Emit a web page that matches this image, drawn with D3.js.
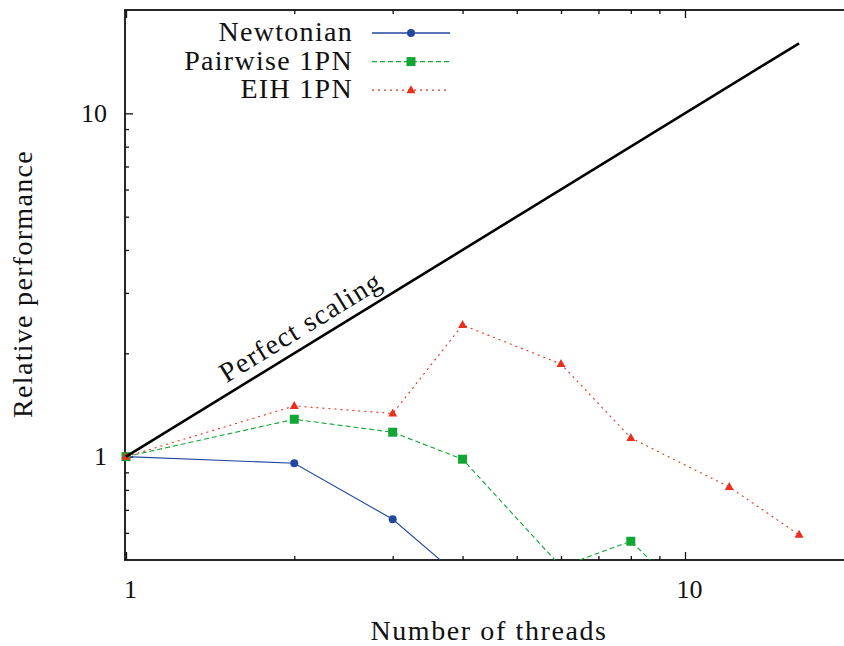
<!DOCTYPE html>
<html>
<head>
<meta charset="utf-8">
<script src="https://cdn.jsdelivr.net/npm/d3@7"></script>
<style>
  body { margin: 0; background: #fff; }
</style>
</head>
<body>
<div id="chart"></div>
<script>
const threads = [1, 2, 3, 4, 6, 8, 12, 16];
const newtonian = [1, 0.957, 0.657, 0.44];
const pairwise = [1, 1.285, 1.178, 0.983, 0.478, 0.567, 0.30];
const eih = [1, 1.405, 1.336, 2.418, 1.862, 1.134, 0.816, 0.592];
const perfectX = [1, 16];
const xMajor = [1, 10];
const xMinor = [2, 3, 4, 5, 6, 7, 8, 9];
const yMajor = [1, 10];
const yMinor = [0.6, 0.7, 0.8, 0.9, 2, 3, 4, 5, 6, 7, 8, 9];

const SIZE = { width: 844, height: 646 };
const PLOT = { left: 126, top: 10, bottom: 560, decade: 559 };
const FONT = '"Liberation Serif"';

const series = [
  { name: "Newtonian", values: newtonian, color: "#2346a0", dash: null, marker: "circle" },
  { name: "Pairwise 1PN", values: pairwise, color: "#12a637", dash: "5,3", marker: "square" },
  { name: "EIH 1PN", values: eih, color: "#e8301c", dash: "2,4", marker: "triangle" }
];

const svg = d3.select("#chart").append("svg")
    .attr("width", SIZE.width)
    .attr("height", SIZE.height);

const xScale = d3.scaleLog().domain([1, 20])
    .range([PLOT.left, PLOT.left + PLOT.decade * Math.log10(20)]);
const yScale = d3.scaleLog().domain([0.5, 20]).range([PLOT.bottom, PLOT.top]);
const right = xScale.range()[1];

svg.append("clipPath").attr("id", "clip")
  .append("rect")
    .attr("x", PLOT.left).attr("y", PLOT.top)
    .attr("width", right - PLOT.left).attr("height", PLOT.bottom - PLOT.top);

// ticks on all sides (right one falls outside the picture)
function ticks(axis, values, size, transform, labels) {
  const g = svg.append("g").attr("transform", transform)
      .call(axis.tickValues(values).tickSize(size).tickFormat(labels ? d3.format("d") : ""));
  g.attr("font-family", null).attr("font-size", null);
  g.select(".domain").remove();
  g.selectAll("line").attr("stroke", "#111").attr("stroke-width", 1.3);
  g.selectAll("text").style("font-family", FONT).style("font-size", "26px").attr("fill", "#111");
  return g;
}
const xb = ticks(d3.axisBottom(xScale), xMajor, -8, `translate(0,${PLOT.bottom})`, true);
xb.selectAll("text").attr("dy", null).attr("y", 38).attr("x", 4);
ticks(d3.axisBottom(xScale), xMinor, -4, `translate(0,${PLOT.bottom})`, false);
ticks(d3.axisTop(xScale), xMajor, -8, `translate(0,${PLOT.top})`, false);
ticks(d3.axisTop(xScale), xMinor, -4, `translate(0,${PLOT.top})`, false);
const yl = ticks(d3.axisLeft(yScale), yMajor, -8, `translate(${PLOT.left - 1},0)`, true);
yl.selectAll("text").attr("x", -18);
ticks(d3.axisLeft(yScale), yMinor, -4, `translate(${PLOT.left - 1},0)`, false);
ticks(d3.axisRight(yScale), yMajor, -8, `translate(${right},0)`, false);
ticks(d3.axisRight(yScale), yMinor, -4, `translate(${right},0)`, false);

svg.append("rect")
    .attr("x", PLOT.left - 1).attr("y", PLOT.top)
    .attr("width", right - PLOT.left + 1).attr("height", PLOT.bottom - PLOT.top)
    .attr("fill", "none").attr("stroke", "#111").attr("stroke-width", 1.8);

const line = d3.line().x(d => xScale(d[0])).y(d => yScale(d[1]));

function marker(g, type, color, cx, cy) {
  if (type === "circle") {
    g.append("circle").attr("cx", cx).attr("cy", cy).attr("r", 4).attr("fill", color);
  } else if (type === "square") {
    g.append("rect").attr("x", cx - 4.5).attr("y", cy - 4.5).attr("width", 9).attr("height", 9).attr("fill", color);
  } else {
    g.append("path").attr("d", `M${cx},${cy - 5}L${cx + 4.5},${cy + 3}L${cx - 4.5},${cy + 3}Z`).attr("fill", color);
  }
}

series.forEach(s => {
  const pts = s.values.map((v, i) => [threads[i], v]);
  const g = svg.append("g");
  g.append("path")
      .attr("clip-path", "url(#clip)")
      .attr("d", line(pts))
      .attr("fill", "none")
      .attr("stroke", s.color)
      .attr("stroke-width", 1.1)
      .attr("stroke-dasharray", s.dash);
  pts.filter(p => p[1] >= 0.5).forEach(p => marker(g, s.marker, s.color, xScale(p[0]), yScale(p[1])));
});

// perfect scaling
svg.append("path")
    .attr("d", line(perfectX.map(d => [d, d])))
    .attr("fill", "none").attr("stroke", "#000").attr("stroke-width", 2.6);

function label(sel, size, spacing) {
  return sel.style("font-family", FONT).style("font-size", size + "px")
      .style("letter-spacing", spacing + "px").attr("fill", "#111");
}

const angle = Math.atan2(yScale(16) - yScale(1), xScale(16) - xScale(1)) * 180 / Math.PI;
label(svg.append("text"), 28, 1.3)
    .attr("transform", `translate(${xScale(2.14)},${yScale(2.14)}) rotate(${angle})`)
    .attr("y", -10)
    .attr("text-anchor", "middle")
    .text("Perfect scaling");

// legend
const legend = svg.append("g");
series.forEach((s, i) => {
  const ly = 33 + i * 28.6;
  label(legend.append("text"), 28, 1.3)
      .attr("x", 353).attr("y", ly + 8)
      .attr("text-anchor", "end")
      .text(s.name);
  legend.append("line")
      .attr("x1", 372).attr("x2", 450).attr("y1", ly).attr("y2", ly)
      .attr("stroke", s.color).attr("stroke-width", 1.3)
      .attr("stroke-dasharray", s.dash);
  marker(legend, s.marker, s.color, 411, ly);
});

// axis titles
label(svg.append("text"), 28, 1.6)
    .attr("x", 489).attr("y", 640)
    .attr("text-anchor", "middle")
    .text("Number of threads");
label(svg.append("text"), 28, 1.3)
    .attr("transform", "translate(32,284) rotate(-90)")
    .attr("text-anchor", "middle")
    .text("Relative performance");
</script>
</body>
</html>
